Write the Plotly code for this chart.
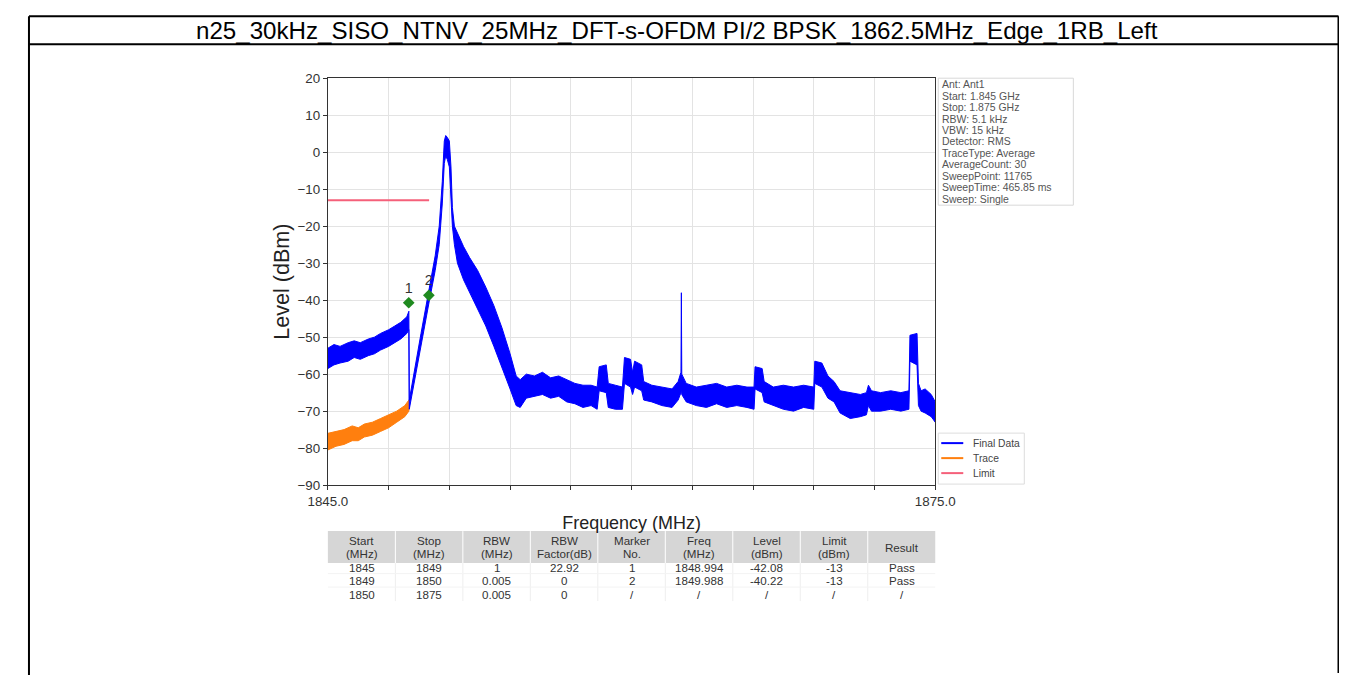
import plotly.graph_objects as go

title_text = "n25_30kHz_SISO_NTNV_25MHz_DFT-s-OFDM PI/2 BPSK_1862.5MHz_Edge_1RB_Left"

# Final Data (blue) trace envelope: freq (MHz), upper / lower level (dBm)
blue_freq = [1845.0, 1845.3, 1845.6, 1846.0, 1846.3, 1846.6, 1847.0, 1847.3, 1847.6, 1848.0,
             1848.3, 1848.6, 1848.9, 1849.0, 1849.02, 1849.3, 1849.6, 1850.0, 1850.3, 1850.5,
             1850.65, 1850.75, 1850.82, 1850.9, 1851.0, 1851.08, 1851.15, 1851.25, 1851.4, 1851.7,
             1852.0, 1852.4, 1852.8, 1853.2, 1853.6, 1854.0, 1854.3, 1854.5, 1854.8, 1855.2,
             1855.6, 1856.0, 1856.4, 1856.8, 1857.2, 1857.6, 1858.0, 1858.3, 1858.4, 1858.75,
             1858.85, 1859.2, 1859.55, 1859.65, 1859.95, 1860.05, 1860.15, 1860.5, 1860.6, 1861.0,
             1861.5, 1862.0, 1862.3, 1862.44, 1862.46, 1862.48, 1862.7, 1863.2, 1863.7, 1864.2,
             1864.7, 1865.2, 1865.7, 1866.05, 1866.1, 1866.45, 1866.55, 1867.0, 1867.5, 1868.0,
             1868.5, 1869.0, 1869.05, 1869.4, 1869.7, 1870.0, 1870.3, 1870.8, 1871.3, 1871.6,
             1871.7, 1871.85, 1872.3, 1872.8, 1873.3, 1873.7, 1873.75, 1874.1, 1874.17, 1874.3,
             1874.5, 1874.8, 1875.0]
blue_hi = [-53.0, -52.0, -52.5, -51.5, -51.0, -51.5, -50.5, -50.0, -49.0, -48.0,
           -47.0, -46.0, -44.5, -43.0, -67.0, -58.0, -49.0, -37.0, -28.0, -20.0,
           -8.0, 3.0, 4.5, 4.0, 3.0, -4.0, -15.0, -20.0, -22.0, -25.5,
           -28.5, -32.0, -36.5, -41.5, -47.5, -54.5, -60.5, -61.5, -60.0, -60.5,
           -59.5, -61.0, -60.5, -61.5, -62.5, -63.0, -63.0, -63.5, -58.0, -57.5,
           -62.5, -63.0, -63.5, -55.5, -56.0, -59.5, -56.5, -57.5, -62.0, -63.0,
           -63.5, -64.0, -62.0, -59.5, -38.0, -60.0, -62.5, -63.5, -63.0, -62.5,
           -63.5, -63.0, -63.5, -63.5, -58.0, -58.5, -62.0, -63.5, -63.0, -63.5,
           -63.0, -63.5, -56.5, -57.0, -60.5, -62.0, -64.5, -65.0, -65.5, -65.0,
           -63.0, -64.5, -65.0, -64.5, -65.0, -64.5, -49.5, -49.0, -62.5, -64.5,
           -64.0, -65.5, -67.5]
blue_lo = [-58.5, -57.5, -57.0, -56.5, -55.5, -56.0, -55.0, -54.5, -53.5, -52.5,
           -51.5, -50.5, -49.0, -48.0, -69.5, -61.0, -52.0, -40.5, -32.0, -25.0,
           -14.0, -3.0, -1.0, -2.0, -4.0, -12.0, -20.0, -25.0, -30.0, -34.5,
           -38.0, -42.5, -47.0, -52.5, -58.0, -64.0, -68.5, -69.0, -66.5, -66.0,
           -65.5, -66.5, -66.0, -67.5, -68.0, -69.0, -68.5, -69.5, -64.5, -65.0,
           -69.0, -69.5, -69.5, -62.5, -63.5, -65.5, -63.5, -64.5, -67.0, -67.5,
           -68.5, -69.0, -67.0, -65.0, -63.5, -65.5, -67.5, -68.5, -69.0, -68.0,
           -69.0, -68.5, -69.0, -69.5, -64.0, -65.0, -67.5, -68.5, -69.5, -70.0,
           -69.0, -69.5, -62.5, -63.5, -66.5, -67.5, -70.5, -72.0, -71.5, -71.0,
           -68.5, -70.0, -70.0, -69.5, -70.0, -69.5, -56.5, -57.5, -68.5, -70.0,
           -70.5, -71.5, -73.0]

# Trace (orange) envelope
orange_freq = [1845.0, 1845.4, 1845.8, 1846.2, 1846.5, 1846.8, 1847.2, 1847.6, 1848.0, 1848.4, 1848.8, 1849.0]
orange_hi = [-76.0, -75.5, -75.0, -74.0, -74.5, -73.5, -73.0, -72.0, -71.0, -70.0, -68.5, -67.0]
orange_lo = [-80.5, -79.5, -79.0, -78.0, -78.0, -77.0, -76.5, -75.5, -74.5, -73.0, -71.5, -70.0]

# Limit
limit_freq = [1845.0, 1850.0]
limit_level = [-13.0, -13.0]

# Markers
marker_freq = [1848.994, 1849.988]
marker_level = [-40.7, -38.7]
marker_labels = ["1", "2"]

# Axes ticks
x_tickvals = [1845, 1848, 1851, 1854, 1857, 1860, 1863, 1866, 1869, 1872, 1875]
x_ticktext = ["1845.0", "", "", "", "", "", "", "", "", "", "1875.0"]
y_tickvals = [20, 10, 0, -10, -20, -30, -40, -50, -60, -70, -80, -90]

# Legend entries
legend_names = ["Final Data", "Trace", "Limit"]

# Info box
info_lines = ["Ant: Ant1", "Start: 1.845 GHz", "Stop: 1.875 GHz", "RBW: 5.1 kHz", "VBW: 15 kHz",
              "Detector: RMS", "TraceType: Average", "AverageCount: 30", "SweepPoint: 11765",
              "SweepTime: 465.85 ms", "Sweep: Single"]

# Table
table_header = ["Start<br>(MHz)", "Stop<br>(MHz)", "RBW<br>(MHz)", "RBW<br>Factor(dB)", "Marker<br>No.",
                "Freq<br>(MHz)", "Level<br>(dBm)", "Limit<br>(dBm)", "Result"]
col_start = ["1845", "1849", "1850"]
col_stop = ["1849", "1850", "1875"]
col_rbw = ["1", "0.005", "0.005"]
col_factor = ["22.92", "0", "0"]
col_marker = ["1", "2", "/"]
col_freq = ["1848.994", "1849.988", "/"]
col_level = ["-42.08", "-40.22", "/"]
col_limit = ["-13", "-13", "/"]
col_result = ["Pass", "Pass", "/"]
table_columns = [col_start, col_stop, col_rbw, col_factor, col_marker, col_freq, col_level, col_limit, col_result]

FONT = "Liberation Sans, Arial, sans-serif"
BLUE = "#0000ff"
ORANGE = "#ff7f0e"
RED = "#f5607a"
legend_colors = [BLUE, ORANGE, RED]

# ---- geometry: positions given in target-picture pixels, mapped into figure coordinates ----
SX, SY = 0.970, 0.978       # picture px per figure px
OXP, OYP = 28.3, 14.8       # picture position of the figure's origin
W, H = 1360, 676
FS = 1.0 / 0.974            # font compensation


def fxp(R):
    return (R - OXP) / SX


def fyp(R):
    return (R - OYP) / SY


def px(R):
    return fxp(R) / W


def py(R):
    return 1 - fyp(R) / H


def fs(s):
    return round(s * FS, 2)


PL, PR, PT, PB = 328, 935, 78, 485

fig = go.Figure()

fig.add_trace(go.Scatter(
    x=orange_freq + orange_freq[::-1], y=orange_hi + orange_lo[::-1],
    fill="toself", fillcolor=ORANGE, mode="lines", line=dict(color=ORANGE, width=1),
    name="Trace", showlegend=False, hoverinfo="skip"))
fig.add_trace(go.Scatter(
    x=blue_freq + blue_freq[::-1], y=blue_hi + blue_lo[::-1],
    fill="toself", fillcolor=BLUE, mode="lines", line=dict(color=BLUE, width=1),
    name="Final Data", showlegend=False, hoverinfo="skip"))
fig.add_trace(go.Scatter(
    x=limit_freq, y=limit_level, mode="lines", line=dict(color=RED, width=2),
    name="Limit", showlegend=False))
fig.add_trace(go.Scatter(
    x=marker_freq, y=marker_level, mode="markers+text", text=marker_labels,
    textposition="top center", textfont=dict(family=FONT, size=fs(14), color="#333333"),
    marker=dict(symbol="diamond", size=9, color="#1f8a1f"), showlegend=False))

fig.update_layout(
    width=W, height=H,
    margin=dict(l=0, r=0, t=0, b=0),
    paper_bgcolor="white", plot_bgcolor="white",
    font=dict(family=FONT, color="#333333"),
    showlegend=False,
    xaxis=dict(domain=[px(PL), px(PR)], range=[1845, 1875], tickvals=x_tickvals, ticktext=x_ticktext,
               showgrid=True, gridcolor="#e3e3e3", gridwidth=1, zeroline=False,
               showline=True, linecolor="#333333", linewidth=1, mirror=True,
               ticks="outside", ticklen=4, tickcolor="#333333",
               tickfont=dict(family=FONT, size=fs(13), color="#333333"),
               title=dict(text="Frequency (MHz)", font=dict(family=FONT, size=fs(17.5), color="#222222"),
                          standoff=8)),
    yaxis=dict(domain=[py(PB), py(PT)], range=[-90, 20], tickvals=y_tickvals,
               showgrid=True, gridcolor="#e3e3e3", gridwidth=1, zeroline=False,
               showline=True, linecolor="#333333", linewidth=1, mirror=True,
               ticks="outside", ticklen=4, tickcolor="#333333",
               tickfont=dict(family=FONT, size=fs(13), color="#333333"),
               title=dict(text="Level (dBm)", font=dict(family=FONT, size=fs(21), color="#222222"),
                          standoff=2)),
)

# title cell (kept fully inside the drawable page area)
TOP_LINE, TITLE_Y, TITLE_LINE = 16, 30, 44
annotations = [dict(text=title_text, x=px(677), y=py(TITLE_Y), xref="paper", yref="paper",
                    xanchor="center", yanchor="middle", showarrow=False,
                    font=dict(family=FONT, size=fs(23.5), color="#000000"))]
shapes = []

# info box
for i, line in enumerate(info_lines):
    annotations.append(dict(text=line, x=px(940), y=py(84.5 + i * 11.45), xref="paper", yref="paper",
                            xanchor="left", yanchor="middle", showarrow=False,
                            font=dict(family=FONT, size=fs(10.2), color="#555555")))
shapes.append(dict(type="rect", xref="paper", yref="paper", x0=px(938), x1=px(1073), y0=py(205), y1=py(78),
                   line=dict(color="#d8d8d8", width=1), fillcolor="rgba(0,0,0,0)", layer="above"))

# compact legend box
shapes.append(dict(type="rect", xref="paper", yref="paper", x0=px(938), x1=px(1024), y0=py(484), y1=py(433),
                   line=dict(color="#dddddd", width=1), fillcolor="white", layer="above"))
for i, (name, col) in enumerate(zip(legend_names, legend_colors)):
    yy = 443 + i * 15
    shapes.append(dict(type="line", xref="paper", yref="paper", x0=px(941), x1=px(963),
                       y0=py(yy), y1=py(yy), line=dict(color=col, width=2), layer="above"))
    annotations.append(dict(text=name, x=px(971), y=py(yy), xref="paper", yref="paper",
                            xanchor="left", yanchor="middle", showarrow=False,
                            font=dict(family=FONT, size=fs(10), color="#444444")))

# results table under the chart
ncol = len(table_header)
cw = (PR - PL) / ncol
HT, HB = 531, 563
row_y = [567, 580.5, 594]
shapes.append(dict(type="rect", xref="paper", yref="paper", x0=px(PL), x1=px(PR), y0=py(HB), y1=py(HT),
                   line=dict(width=0), fillcolor="#d6d6d6", layer="below"))
for j in range(1, ncol):
    xx = PL + j * cw
    shapes.append(dict(type="line", xref="paper", yref="paper", x0=px(xx), x1=px(xx), y0=py(HB), y1=py(HT),
                       line=dict(color="white", width=1)))
    shapes.append(dict(type="line", xref="paper", yref="paper", x0=px(xx), x1=px(xx), y0=py(601), y1=py(HB),
                       line=dict(color="#eeeeee", width=1)))
for r in (573.5, 587):
    shapes.append(dict(type="line", xref="paper", yref="paper", x0=px(PL), x1=px(PR), y0=py(r), y1=py(r),
                       line=dict(color="#f3f3f3", width=1)))
for j, (head, col) in enumerate(zip(table_header, table_columns)):
    xc = PL + (j + 0.5) * cw
    parts = head.split("<br>")
    if len(parts) == 1:
        ys = [(HT + HB) / 2]
    else:
        ys = [540, 553]
    for part, yy in zip(parts, ys):
        annotations.append(dict(text=part, x=px(xc), y=py(yy), xref="paper", yref="paper",
                                xanchor="center", yanchor="middle", showarrow=False,
                                font=dict(family=FONT, size=fs(11.3), color="#333333")))
    for val, yy in zip(col, row_y):
        annotations.append(dict(text=val, x=px(xc), y=py(yy), xref="paper", yref="paper",
                                xanchor="center", yanchor="middle", showarrow=False,
                                font=dict(family=FONT, size=fs(11.3), color="#333333")))

# page frame around the title cell and the content
FW = 2
xl = max(fxp(8.5), 1) / W
xr = fxp(1338) / W
yt = py(TOP_LINE)
shapes += [
    dict(type="line", xref="paper", yref="paper", x0=xl, x1=xr, y0=yt, y1=yt, line=dict(color="black", width=FW)),
    dict(type="line", xref="paper", yref="paper", x0=xl, x1=xr, y0=py(TITLE_LINE), y1=py(TITLE_LINE),
         line=dict(color="black", width=FW)),
    dict(type="line", xref="paper", yref="paper", x0=xl, x1=xl, y0=yt, y1=0, line=dict(color="black", width=FW)),
    dict(type="line", xref="paper", yref="paper", x0=xr, x1=xr, y0=yt, y1=py(673), line=dict(color="black", width=FW)),
]
fig.update_layout(annotations=annotations, shapes=shapes)

fig.write_html("out.html")
